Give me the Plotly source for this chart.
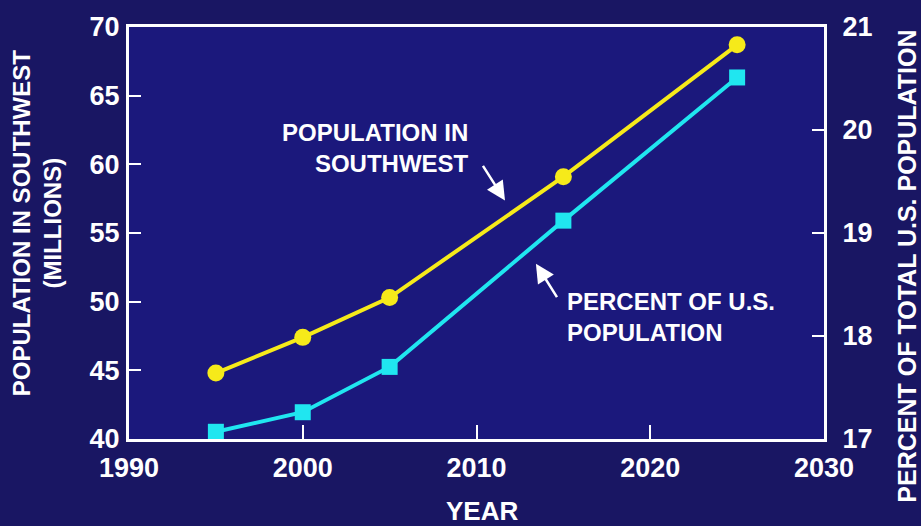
import plotly.graph_objects as go

# Data
years = [1995, 2000, 2005, 2015, 2025]
population_millions = [44.8, 47.4, 50.3, 59.1, 68.7]
percent_of_us = [17.07, 17.26, 17.70, 19.12, 20.51]

x_ticks = [1990, 2000, 2010, 2020, 2030]
left_ticks = [40, 45, 50, 55, 60, 65, 70]
right_ticks = [17, 18, 19, 20, 21]

PAPER_BG = "#191663"
PLOT_BG = "#1b187c"
YELLOW = "#f6ea1a"
CYAN = "#20e6f0"
WHITE = "#ffffff"
FONT = "Liberation Sans, Arial, sans-serif"

fig = go.Figure()

fig.add_trace(go.Scatter(
    x=years, y=population_millions, mode="lines+markers",
    line=dict(color=YELLOW, width=4),
    marker=dict(symbol="circle", size=17, color=YELLOW),
    yaxis="y", showlegend=False, hoverinfo="skip",
))
fig.add_trace(go.Scatter(
    x=years, y=percent_of_us, mode="lines+markers",
    line=dict(color=CYAN, width=4),
    marker=dict(symbol="square", size=16, color=CYAN),
    yaxis="y2", showlegend=False, hoverinfo="skip",
))

tick_font = dict(family=FONT, size=27, color=WHITE, weight="bold")
label_font = dict(family=FONT, size=24, color=WHITE, weight="bold")

fig.update_layout(
    width=921, height=526,
    margin=dict(l=129, r=97, t=22, b=87),
    paper_bgcolor=PAPER_BG,
    plot_bgcolor=PLOT_BG,
    xaxis=dict(
        range=[1990, 2030], tickvals=x_ticks, ticktext=[str(v) for v in x_ticks],
        showgrid=False, zeroline=False,
        showline=True, linecolor=WHITE, linewidth=3, mirror=True,
        ticks="inside", ticklen=14, tickwidth=2, tickcolor=WHITE,
        tickfont=tick_font, ticklabelstandoff=3,
    ),
    yaxis=dict(
        range=[40, 70], tickvals=left_ticks,
        showgrid=False, zeroline=False,
        showline=True, linecolor=WHITE, linewidth=3,
        ticks="inside", ticklen=12, tickwidth=2, tickcolor=WHITE,
        tickfont=tick_font, ticklabelstandoff=1,
    ),
    yaxis2=dict(
        range=[17, 21], tickvals=right_ticks, overlaying="y", side="right",
        showgrid=False, zeroline=False,
        showline=True, linecolor=WHITE, linewidth=3,
        ticks="inside", ticklen=12, tickwidth=2, tickcolor=WHITE,
        tickfont=tick_font, ticklabelstandoff=10,
    ),
)

annotations = [
    # axis titles
    dict(text="POPULATION IN SOUTHWEST<br>(MILLIONS)", xref="paper", yref="paper",
         x=-0.1324, y=0.526, textangle=-90, showarrow=False,
         font=label_font, align="center", xanchor="center", yanchor="middle"),
    dict(text="PERCENT OF TOTAL U.S. POPULATION", xref="paper", yref="paper",
         x=1.119, y=0.42, textangle=-90, showarrow=False,
         font=dict(family=FONT, size=25, color=WHITE, weight="bold"),
         xanchor="center", yanchor="middle"),
    dict(text="YEAR", xref="paper", yref="paper", x=0.508, y=-0.174,
         showarrow=False, font=dict(family=FONT, size=26, color=WHITE, weight="bold"),
         xanchor="center", yanchor="middle"),
    # series labels
    dict(text="POPULATION IN<br>SOUTHWEST", xref="x", yref="y",
         x=2009.7, y=61.2, showarrow=False, font=label_font,
         align="right", xanchor="right", yanchor="middle"),
    dict(text="PERCENT OF U.S.<br>POPULATION", xref="x", yref="y",
         x=2015.1, y=48.9, showarrow=False, font=label_font,
         align="left", xanchor="left", yanchor="middle"),
    # pointer arrows
    dict(text="", xref="x", yref="y", x=2011.64, y=57.37,
         ax=-23, ay=-36, showarrow=True, arrowhead=2, arrowsize=1.5,
         arrowwidth=2.5, arrowcolor=WHITE),
    dict(text="", xref="x", yref="y", x=2013.42, y=52.77,
         ax=22, ay=35, showarrow=True, arrowhead=2, arrowsize=1.5,
         arrowwidth=2.5, arrowcolor=WHITE),
]
fig.update_layout(annotations=annotations)

fig.write_html("out.html")
